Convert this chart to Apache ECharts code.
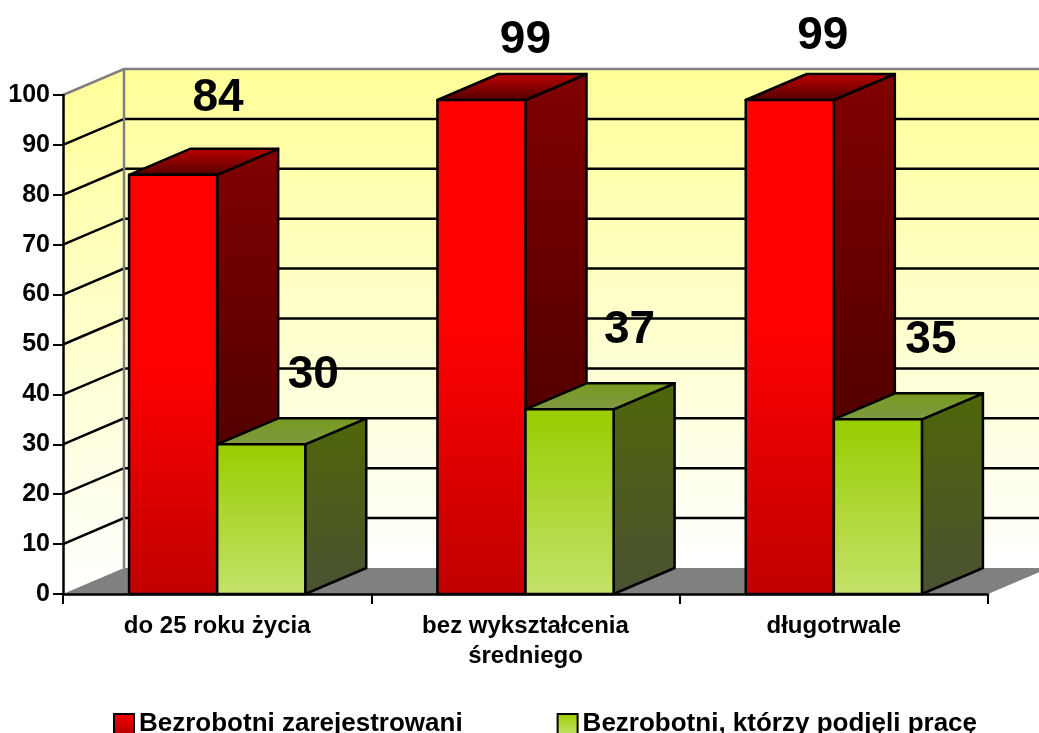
<!DOCTYPE html>
<html>
<head>
<meta charset="utf-8">
<style>html,body{margin:0;padding:0;background:#fff}#c{width:1039px;height:733px}</style>
<script src="https://cdn.jsdelivr.net/npm/echarts@6/dist/echarts.min.js"></script>
</head>
<body>
<div id="c"></div>
<script>
const categories = ['do 25 roku życia', 'bez wykształcenia\nśredniego', 'długotrwale'];
const seriesNames = ['Bezrobotni zarejestrowani', 'Bezrobotni, którzy podjęli pracę'];
const registered = [84, 99, 99];
const employed = [30, 37, 35];
const gridValues = [10, 20, 30, 40, 50, 60, 70, 80, 90, 100];

// Layout constants (not data)
const DEPTH_X = 61, DEPTH_Y = 26, FONT = '"Liberation Sans", Arial, sans-serif';
const registeredLabelOffsets = [[45, -77], [44, -60], [33, -64]];
const employedLabelOffsets = [[52, -69], [60, -79], [53, -79]];

function vGrad(stops) {
  return new echarts.graphic.LinearGradient(0, 0, 0, 1,
    stops.map(s => ({ offset: s[0], color: s[1] })));
}
const redStyle = {
  front: [[0, '#ff0000'], [0.45, '#ff0000'], [1, '#c00000']],
  side: [[0, '#800000'], [1, '#3c0000']],
  top: [[0, '#c00000'], [1, '#500000']]
};
const greenStyle = {
  front: [[0, '#99cc00'], [1, '#c4e26a']],
  side: [[0, '#4f6608'], [1, '#4a5233']],
  top: [[0, '#779a1c'], [1, '#7f9945']]
};

function poly(points, fill, stroke, lw) {
  return { type: 'polygon', shape: { points },
    style: { fill, stroke: stroke || 'none', lineWidth: lw || 0, lineJoin: 'round' } };
}

function barRenderer(side, look, offsets) {
  return function (params, api) {
    const idx = api.value(0), val = api.value(1);
    const center = api.coord([idx, 0]);
    const topP = api.coord([idx, val]);
    const w = api.size([1, 0])[0] / 3.5;
    const x0 = side < 0 ? center[0] - w : center[0];
    const x1 = x0 + w;
    const y0 = center[1], y1 = topP[1];
    const S = '#000', L = 2.5;
    const off = offsets[params.dataIndex];
    return { type: 'group', children: [
      poly([[x1, y1], [x1 + DEPTH_X, y1 - DEPTH_Y], [x1 + DEPTH_X, y0 - DEPTH_Y], [x1, y0]], vGrad(look.side), S, L),
      poly([[x0, y1], [x0 + DEPTH_X, y1 - DEPTH_Y], [x1 + DEPTH_X, y1 - DEPTH_Y], [x1, y1]], vGrad(look.top), S, L),
      poly([[x0, y0], [x0, y1], [x1, y1], [x1, y0]], vGrad(look.front), S, L),
      { type: 'text', z2: 50, style: {
          text: String(val), x: center[0] + (side < 0 ? -w / 2 : w / 2) + off[0], y: y1 + off[1],
          textAlign: 'center', textVerticalAlign: 'middle',
          font: 'bold 46px ' + FONT, fill: '#000' } }
    ] };
  };
}

const chart = echarts.init(document.getElementById('c'), null, { renderer: 'canvas' });
chart.setOption({
  animation: false,
  backgroundColor: '#fff',
  grid: { left: 63, right: 51, top: 95, bottom: 139, containLabel: false },
  legend: {
    left: 113, top: 711, padding: 0, itemWidth: 20, itemHeight: 20, itemGap: 94,
    data: [
      { name: seriesNames[0], icon: 'rect', itemStyle: { color: vGrad([[0, '#ff0000'], [1, '#b00000']]), borderColor: '#000', borderWidth: 2 } },
      { name: seriesNames[1], icon: 'rect', itemStyle: { color: vGrad([[0, '#99cc00'], [1, '#c4e26a']]), borderColor: '#000', borderWidth: 2 } }
    ],
    textStyle: { fontFamily: FONT, fontWeight: 'bold', fontSize: 26, color: '#000' }
  },
  xAxis: {
    type: 'category', data: categories, z: 10,
    axisLine: { lineStyle: { color: '#000', width: 2.5 } },
    axisTick: { show: true, alignWithLabel: false, length: 10, lineStyle: { color: '#000', width: 2 } },
    axisLabel: { margin: 17, fontFamily: FONT, fontWeight: 'bold', fontSize: 24, color: '#000', lineHeight: 30, interval: 0 },
    splitLine: { show: false }
  },
  yAxis: {
    type: 'value', min: 0, max: 100, interval: 10, z: 10,
    axisLine: { show: true, lineStyle: { color: '#000', width: 2.5 } },
    axisTick: { show: true, length: 10, lineStyle: { color: '#000', width: 2 } },
    axisLabel: { margin: 13, fontFamily: FONT, fontWeight: 'bold', fontSize: 25, color: '#000' },
    splitLine: { show: false }
  },
  series: [
    { // walls and floor
      type: 'custom', coordinateSystem: 'cartesian2d', silent: true, z: 1,
      data: [[0, 0]],
      encode: { x: 0, y: 1 },
      renderItem: function (params, api) {
        const s = api.coord([0, 0]), t = api.coord([0, 100]);
        const size = api.size([1, 0])[0];
        const x0 = s[0] - size / 2, y0 = s[1], y1 = t[1];
        const x1 = x0 + size * categories.length;
        const wall = vGrad([[0, '#ffff99'], [1, '#ffffff']]);
        return { type: 'group', children: [
          poly([[x0, y0], [x0, y1], [x0 + DEPTH_X, y1 - DEPTH_Y], [x0 + DEPTH_X, y0 - DEPTH_Y]], wall),
          poly([[x0 + DEPTH_X, y1 - DEPTH_Y], [x1 + DEPTH_X, y1 - DEPTH_Y], [x1 + DEPTH_X, y0 - DEPTH_Y], [x0 + DEPTH_X, y0 - DEPTH_Y]], wall),
          poly([[x0, y0], [x0 + DEPTH_X, y0 - DEPTH_Y], [x1 + DEPTH_X, y0 - DEPTH_Y], [x1, y0]], '#808080')
        ] };
      }
    },
    { // grid lines on walls
      type: 'custom', coordinateSystem: 'cartesian2d', silent: true, z: 1,
      data: gridValues.map(v => [0, v]),
      encode: { x: 0, y: 1 },
      renderItem: function (params, api) {
        const v = api.value(1);
        const p = api.coord([0, v]);
        const size = api.size([1, 0])[0];
        const x0 = p[0] - size / 2, y = p[1];
        const x1 = x0 + size * categories.length;
        const color = v === 100 ? '#808080' : '#000';
        return { type: 'polyline',
          shape: { points: [[x0, y], [x0 + DEPTH_X, y - DEPTH_Y], [x1 + DEPTH_X, y - DEPTH_Y]] },
          style: { stroke: color, fill: 'none', lineWidth: 2.5 } };
      }
    },
    { // back-wall corner
      type: 'custom', coordinateSystem: 'cartesian2d', silent: true, z: 1,
      data: [[0, 100]],
      encode: { x: 0, y: 1 },
      renderItem: function (params, api) {
        const t = api.coord([0, 100]), b = api.coord([0, 0]);
        const x = t[0] - api.size([1, 0])[0] / 2 + DEPTH_X;
        return { type: 'line', shape: { x1: x, y1: t[1] - DEPTH_Y, x2: x, y2: b[1] - DEPTH_Y },
          style: { stroke: '#808080', lineWidth: 2.5 } };
      }
    },
    {
      name: seriesNames[0], type: 'custom', coordinateSystem: 'cartesian2d', z: 2,
      data: registered.map((v, i) => [i, v]),
      encode: { x: 0, y: 1 },
      renderItem: barRenderer(-1, redStyle, registeredLabelOffsets)
    },
    {
      name: seriesNames[1], type: 'custom', coordinateSystem: 'cartesian2d', z: 3,
      data: employed.map((v, i) => [i, v]),
      encode: { x: 0, y: 1 },
      renderItem: barRenderer(1, greenStyle, employedLabelOffsets)
    }
  ]
});
</script>
</body>
</html>
